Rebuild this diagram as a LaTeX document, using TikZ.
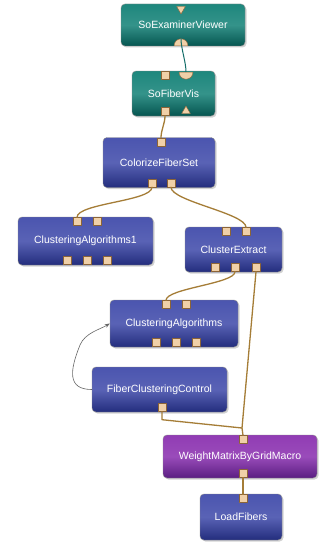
\documentclass[tikz,border=0pt]{standalone}
\usepackage{fontspec}
\setsansfont{Liberation Sans}
\usetikzlibrary{shapes.geometric,shadows,arrows.meta}
\definecolor{tealtop}{RGB}{30,135,125}
\definecolor{tealbot}{RGB}{5,85,80}
\definecolor{bluetop}{RGB}{75,85,175}
\definecolor{bluebot}{RGB}{35,45,125}
\definecolor{purptop}{RGB}{145,60,180}
\definecolor{purpbot}{RGB}{90,30,130}
\definecolor{portfill}{RGB}{240,208,168}
\definecolor{portline}{RGB}{140,100,55}
\definecolor{linkcol}{RGB}{165,125,55}
\definecolor{viewline}{RGB}{20,110,105}
\tikzset{
  module/.style={rounded corners=4pt,draw=black!45,text=white,
    font=\sffamily\fontsize{10.5}{12}\selectfont,inner sep=0pt,
    drop shadow={opacity=.35,shadow xshift=1.5pt,shadow yshift=-1.5pt}},
  inventor/.style={module,top color=tealtop,bottom color=tealbot,middle color=tealtop!90!white},
  mlab/.style={module,top color=bluetop,bottom color=bluebot,middle color=bluetop!92!white},
  macro/.style={module,top color=purptop,bottom color=purpbot,middle color=purptop!92!white},
  port/.style={fill=portfill,draw=portline,minimum size=8pt,inner sep=0pt},
  dome/.style={semicircle,fill=portfill,draw=portline,minimum size=7pt,inner sep=0pt},
  tri/.style={regular polygon,regular polygon sides=3,fill=portfill,draw=portline,minimum size=10pt,inner sep=0pt},
  link/.style={draw=linkcol,line width=1.3pt,line cap=round},
}
\begin{document}
\begin{tikzpicture}[x=1pt,y=-1pt,line join=round]
  \useasboundingbox[fill=white] (0,0) rectangle (322,543);
  % modules
  \node[inventor,minimum width=124pt,minimum height=42pt] (sev) at (183,25) {SoExaminerViewer};
  \node[inventor,minimum width=83pt,minimum height=45pt] (sfv) at (173.5,93.5) {SoFiberVis};
  \node[mlab,minimum width=112pt,minimum height=50pt] (cfs) at (159,162.5) {ColorizeFiberSet};
  \node[mlab,minimum width=135pt,minimum height=48pt] (ca1) at (85.5,241) {ClusteringAlgorithms1};
  \node[mlab,minimum width=97pt,minimum height=45pt] (ce) at (233.5,249.5) {ClusterExtract};
  \node[mlab,minimum width=128pt,minimum height=47pt] (ca) at (174,323.5) {ClusteringAlgorithms};
  \node[mlab,minimum width=135pt,minimum height=45pt] (fcc) at (159.5,389.5) {FiberClusteringControl};
  \node[macro,minimum width=154pt,minimum height=43pt] (wm) at (240,456.5) {WeightMatrixByGridMacro};
  \node[mlab,minimum width=82pt,minimum height=46pt] (lf) at (241,517) {LoadFibers};
  % ports
  \path (181,9)node[tri,shape border rotate=180](sev-i1){}
    (181,46)node[dome,anchor=chord center](sev-o1){}
    (186,72)node[dome,shape border rotate=180,anchor=chord center](sfv-i2){}
    (165,75.5)node[port](sfv-i1){}
    (165,111.5)node[port](sfv-o1){}
    (186,111)node[tri](sfv-o2){}
    (161,142)node[port](cfs-i1){}
    (152,183)node[port](cfs-o1){}
    (171,183)node[port](cfs-o2){}
    (77,221.5)node[port](ca1-i1){}
    (97,221.5)node[port](ca1-i2){}
    (67,260.5)node[port](ca1-o1){}
    (87,260.5)node[port](ca1-o2){}
    (107,260.5)node[port](ca1-o3){}
    (226,231.5)node[port](ce-i1){}
    (246,231.5)node[port](ce-i2){}
    (215,267.5)node[port](ce-o1){}
    (235,267.5)node[port](ce-o2){}
    (256,267.5)node[port](ce-o3){}
    (166,304.5)node[port](ca-i1){}
    (186,304.5)node[port](ca-i2){}
    (156,342.5)node[port](ca-o1){}
    (176,342.5)node[port](ca-o2){}
    (196,342.5)node[port](ca-o3){}
    (162,407.5)node[port](fcc-o1){}
    (243,439.5)node[port](wm-i1){}
    (243,473.5)node[port](wm-o1){}
    (243,498.5)node[port](lf-i1){};
  \coordinate (join) at (242,428);
  % connections
  \draw[draw=viewline,line width=1pt](sev-o1.apex)..controls +(0,10) and +(0,-10)..(sfv-i2.chord center);
  \draw[link](sfv-o1.south)..controls +(0,8) and +(0,-8)..(cfs-i1.north);
  \draw[link](cfs-o1.south)..controls +(0,14) and +(0,-14)..(ca1-i1.north);
  \draw[link](cfs-o2.south)..controls +(0,14) and +(0,-14)..(ce-i2.north);
  \draw[link](ce-o2.south)..controls +(0,12) and +(0,-12)..(ca-i1.north);
  \draw[link](ce-o3.south)--(join)--(wm-i1.north);
  \draw[link](fcc-o1.south)--++(0,8)--(join);
  \draw[link](wm-o1.south)--(lf-i1.north);
  \draw[-{Stealth[length=5pt]},draw=black!60,line width=.6pt](fcc.west)
    ..controls +(-25,0) and +(-10,25)..(80,345)
    ..controls +(5,-12) and +(-10,6)..(ca.west);
\end{tikzpicture}
\end{document}
